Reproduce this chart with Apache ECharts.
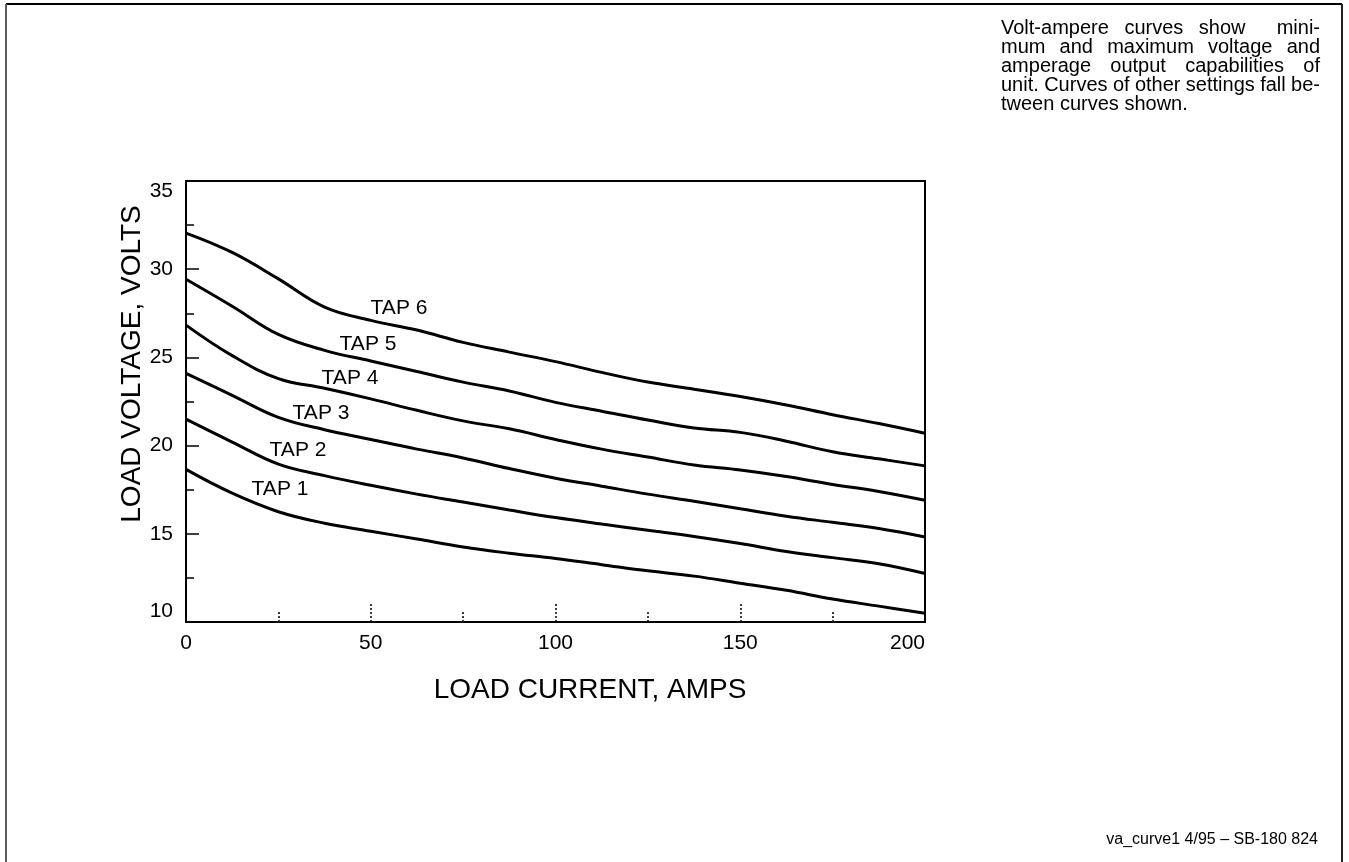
<!DOCTYPE html>
<html><head><meta charset="utf-8">
<script src="https://cdn.jsdelivr.net/npm/echarts@6/dist/echarts.min.js"></script>
<style>html,body{margin:0;padding:0;background:#fff}#c{width:1349px;height:862px}</style>
</head><body><div id="c"></div>
<script>
// ---- data ----
const current = [0,12.5,25,37.5,50,62.5,75,87.5,100,112.5,125,137.5,150,162.5,175,187.5,200];
const tap1 = [18.65,17.3,16.25,15.6,15.15,14.7,14.25,13.9,13.6,13.25,12.9,12.6,12.2,11.8,11.3,10.9,10.5];
const tap2 = [21.5,20.2,18.95,18.3,17.75,17.25,16.8,16.35,15.92,15.55,15.2,14.85,14.45,14.0,13.65,13.3,12.75];
const tap3 = [24.1,22.85,21.6,20.9,20.35,19.8,19.3,18.7,18.15,17.7,17.25,16.85,16.42,16.0,15.65,15.3,14.82];
const tap4 = [26.83,25.1,23.8,23.25,22.65,22.0,21.4,20.95,20.35,19.8,19.35,18.9,18.62,18.25,17.8,17.4,16.9];
const tap5 = [29.43,27.9,26.3,25.4,24.8,24.2,23.6,23.1,22.45,21.95,21.45,21.0,20.75,20.25,19.65,19.25,18.85];
const tap6 = [32.05,30.95,29.45,27.85,27.1,26.55,25.85,25.3,24.76,24.15,23.6,23.2,22.78,22.3,21.75,21.25,20.7];
const tapNames = ['TAP 1','TAP 2','TAP 3','TAP 4','TAP 5','TAP 6'];
const tapValues = [tap1,tap2,tap3,tap4,tap5,tap6];
const xTitle = 'LOAD CURRENT, AMPS';
const yTitle = 'LOAD VOLTAGE, VOLTS';
const noteLines = ['Volt-ampere curves show  mini-','mum and maximum voltage and','amperage output capabilities of','unit. Curves of other settings fall be-','tween curves shown.'];
const footer = 'va_curve1 4/95 \u2013 SB-180 824';

const FONT = '"Liberation Sans", Arial, Helvetica, sans-serif';
const chart = echarts.init(document.getElementById('c'), null, {renderer:'canvas'});

// label anchor positions (pixels) for the TAP labels
const tapLabelPos = [[280,489],[298,450],[321,413],[350,378],[368,344],[399,308]];

const series = tapValues.map((vals, i) => ({
  name: tapNames[i], type: 'line', smooth: 0.4, symbol: 'none',
  data: current.map((x, j) => [x, vals[j]]),
  lineStyle: {color: '#000', width: 3}, z: 3
}));

const graphics = [];
// frame
graphics.push({type:'line', shape:{x1:6,y1:4,x2:1342,y2:4}, style:{stroke:'#000', lineWidth:2}});
graphics.push({type:'line', shape:{x1:6,y1:4,x2:6,y2:862}, style:{stroke:'#5c5c5c', lineWidth:2}});
graphics.push({type:'line', shape:{x1:1342,y1:4,x2:1342,y2:862}, style:{stroke:'#222', lineWidth:2}});
// axis titles
graphics.push({type:'text', x:590, y:690, style:{text:xTitle, font:'28px '+FONT, fill:'#000', textAlign:'center', textVerticalAlign:'middle'}});
graphics.push({type:'text', x:132, y:364, rotation:Math.PI/2, style:{text:yTitle, font:'28px '+FONT, fill:'#000', textAlign:'center', textVerticalAlign:'middle'}});
// TAP labels
tapNames.forEach((n, i) => {
  graphics.push({type:'text', x:tapLabelPos[i][0], y:tapLabelPos[i][1], z:10, style:{text:n, font:'21px '+FONT, fill:'#000', textAlign:'center', textVerticalAlign:'middle'}});
});
// justified note (gaps proportional to number of spaces)
const cv = document.createElement('canvas').getContext('2d');
const noteFont = '20px ' + FONT;
cv.font = noteFont;
const noteLeft = 1001, noteRight = 1320, noteTop = 28.5, noteStep = 19;
noteLines.forEach((line, li) => {
  const y = noteTop + li*noteStep;
  if (li === noteLines.length - 1) {
    graphics.push({type:'text', x:noteLeft, y:y, style:{text:line, font:noteFont, fill:'#000', textAlign:'left', textVerticalAlign:'middle'}});
    return;
  }
  const parts = line.split(' ');
  const words = [], spaces = [];
  let pending = 0;
  parts.forEach(p => {
    if (p === '') { pending++; return; }
    if (words.length) spaces.push(pending + 1);
    words.push(p); pending = 0;
  });
  const widths = words.map(w => cv.measureText(w).width);
  const total = widths.reduce((a,b)=>a+b,0);
  const nSp = spaces.reduce((a,b)=>a+b,0);
  const unit = (noteRight - noteLeft - total) / nSp;
  let x = noteLeft;
  words.forEach((w, wi) => {
    graphics.push({type:'text', x:x, y:y, style:{text:w, font:noteFont, fill:'#000', textAlign:'left', textVerticalAlign:'middle'}});
    x += widths[wi] + (wi < spaces.length ? spaces[wi]*unit : 0);
  });
});
graphics.push({type:'text', x:1318, y:840, style:{text:footer, font:'16px '+FONT, fill:'#000', textAlign:'right', textVerticalAlign:'middle'}});

chart.setOption({
  animation: false,
  backgroundColor: '#fff',
  grid: {left:186, top:181, right:424, bottom:240, show:true, borderColor:'#000', borderWidth:2, backgroundColor:'transparent'},
  xAxis: {
    type:'value', min:0, max:200, interval:50,
    axisLine:{show:true, lineStyle:{color:'#000', width:2}},
    axisTick:{show:true, inside:true, length:18, lineStyle:{color:'#000', width:1.5, type:[2,2]}},
    minorTick:{show:true, splitNumber:2, length:10, lineStyle:{color:'#000', width:1.5, type:[2,2]}},
    axisLabel:{color:'#000', fontSize:21, fontFamily:FONT, margin:11, alignMinLabel:'center', alignMaxLabel:'right'},
    splitLine:{show:false}
  },
  yAxis: {
    type:'value', min:10, max:35, interval:5,
    axisLine:{show:true, lineStyle:{color:'#000', width:2}},
    axisTick:{show:true, inside:true, length:13, lineStyle:{color:'#000', width:1.5}},
    minorTick:{show:true, splitNumber:2, length:8, lineStyle:{color:'#000', width:1.5}},
    axisLabel:{color:'#000', fontSize:21, fontFamily:FONT, margin:13, verticalAlignMinLabel:'bottom', verticalAlignMaxLabel:'top'},
    splitLine:{show:false}
  },
  series: series,
  graphic: graphics
});
</script></body></html>
